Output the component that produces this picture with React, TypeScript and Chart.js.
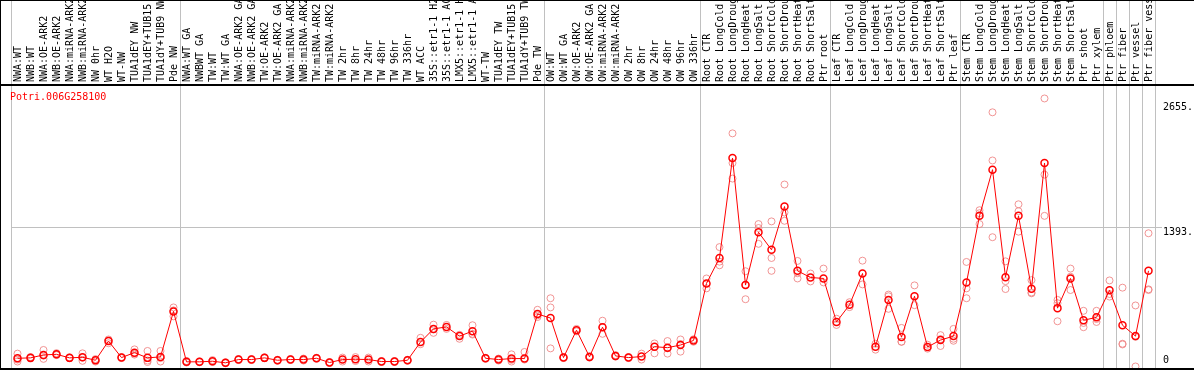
import { useEffect, useRef } from 'react';
import { Chart, registerables } from 'chart.js';

Chart.register(...registerables);

const title = 'Potri.006G258100';

const categories = [
  'NWA:WT', 'NWB:WT', 'NWA:OE-ARK2', 'NWB:OE-ARK2', 'NWA:miRNA-ARK2', 'NWB:miRNA-ARK2', 'NW 0hr', 'WT H2O', 'WT-NW',
  'TUA1dEY NW', 'TUA1dEY+TUB15 NW', 'TUA1dY+TUB9 NW', 'Pde NW',
  'NWA:WT GA', 'NWBWT GA', 'TW:WT', 'TW:WT GA', 'NWA:OE-ARK2 GA', 'NWB:OE-ARK2 GA', 'TW:OE-ARK2', 'TW:OE-ARK2 GA',
  'NWA:miRNA-ARK2 GA', 'NWB:miRNA-ARK2 GA', 'TW:miRNA-ARK2', 'TW:miRNA-ARK2 GA', 'TW 2hr', 'TW 8hr', 'TW 24hr', 'TW 48hr',
  'TW 96hr', 'TW 336hr', 'WT ACC', '35S::etr1-1 H2O', '35S::etr1-1 ACC', 'LMX5::etr1-1 H2O', 'LMX5::etr1-1 ACC', 'WT-TW',
  'TUA1dEY TW', 'TUA1dEY+TUB15 TW', 'TUA1dY+TUB9 TW', 'Pde TW',
  'OW:WT', 'OW:WT GA', 'OW:OE-ARK2', 'OW:OE-ARK2 GA', 'OW:miRNA-ARK2', 'OW:miRNA-ARK2 GA', 'OW 2hr', 'OW 8hr', 'OW 24hr',
  'OW 48hr', 'OW 96hr', 'OW 336hr',
  'Root CTR', 'Root LongCold', 'Root LongDrought', 'Root LongHeat', 'Root LongSalt', 'Root ShortCold', 'Root ShortDrought',
  'Root ShortHeat', 'Root ShortSalt', 'Ptr root',
  'Leaf CTR', 'Leaf LongCold', 'Leaf LongDrought', 'Leaf LongHeat', 'Leaf LongSalt', 'Leaf ShortCold', 'Leaf ShortDrought',
  'Leaf ShortHeat', 'Leaf ShortSalt', 'Ptr leaf',
  'Stem CTR', 'Stem LongCold', 'Stem LongDrought', 'Stem LongHeat', 'Stem LongSalt', 'Stem ShortCold', 'Stem ShortDrought',
  'Stem ShortHeat', 'Stem ShortSalt', 'Ptr shoot', 'Ptr xylem',
  'Ptr phloem', 'Ptr fiber', 'Ptr vessel', 'Ptr fiber vessel',
];

const means = [
  63, 67, 97, 103, 67, 73, 43, 237, 70, 120, 67, 77, 537,
  27, 27, 33, 17, 50, 50, 67, 43, 50, 50, 63, 20, 50, 53, 50, 30, 30, 43, 227, 360, 380, 287, 337, 63, 50, 60, 60, 510,
  470, 70, 347, 77, 377, 87, 70, 80, 180, 170, 197, 243,
  820, 1077, 2087, 803, 1337, 1160, 1597, 947, 880, 870,
  430, 603, 920, 180, 653, 277, 690, 177, 247, 287,
  830, 1503, 1970, 883, 1503, 767, 2037, 570, 870, 447, 477,
  750, 397, 287, 947,
];

const rep1 = [
  110, 75, 147, 115, 70, 113, 55, 253, 75, 153, 137, 137, 577,
  35, 30, 45, 22, 55, 55, 72, 48, 55, 60, 68, 25, 70, 75, 70, 35, 35, 48, 270, 403, 400, 300, 397, 68, 60, 103, 127, 553,
  670, 75, 360, 85, 443, 95, 75, 110, 213, 237, 253, 255,
  870, 1187, 2337, 943, 1420, 1447, 1820, 1047, 920, 970,
  463, 630, 1050, 210, 690, 370, 800, 200, 297, 360,
  1037, 1560, 2550, 1043, 1620, 853, 2690, 653, 970, 543, 543,
  850, 777, 597, 1327,
];

const rep2 = [
  30, 60, 57, 95, 62, 37, 30, 215, 65, 100, 40, 30, 487,
  20, 22, 25, 12, 45, 45, 62, 38, 45, 40, 58, 15, 30, 35, 30, 25, 25, 38, 205, 320, 360, 260, 303, 58, 40, 30, 50, 480,
  577, 65, 335, 70, 310, 80, 65, 50, 113, 110, 130, 230,
  770, 1003, 2037, 660, 1380, 1077, 1537, 870, 840, 830,
  400, 580, 810, 150, 563, 230, 600, 160, 187, 240,
  770, 1420, 2063, 763, 1550, 720, 1920, 620, 753, 377, 460,
  687, 203, -20, 753,
];

const rep3 = [
  50, null, 90, 100, null, 70, 45, 240, null, 110, 25, 65, 547,
  null, null, null, null, null, null, null, null, null, null, null, null, null, null, null, null, null, null,
  null, 357, null, null, 310, null, null, 47, null, 497,
  163, null, null, null, 377, null, null, null, null, 163, 207, null,
  null, 1040, 1880, 807, 1220, 947, 1453, 923, null, null,
  null, null, null, null, 707, 230, null, null, 257, 260,
  670, 1530, 1287, 843, 1343, 728, 1503, 437, 887, 420, 430,
  713, 210, 280, 760,
];

const yTickValues = [0, 1393, 2655];
const yTickLabels = ['0', '1393.', '2655.'];
const yMax = 2816;
const groupStarts = [0, 13, 41, 53, 63, 73, 84, 85, 86, 87, 88];

const FONT = 'DejaVu Sans Mono';

const decor = {
  id: 'decor',
  beforeDatasetsDraw(chart: any) {
    const { ctx, chartArea, scales } = chart;
    const x = scales.x;
    const y = scales.y;
    const half = (x.getPixelForValue(1) - x.getPixelForValue(0)) / 2;
    ctx.save();
    ctx.fillStyle = '#c0c0c0';
    for (const g of groupStarts) {
      const px = Math.round(x.getPixelForValue(g) - half);
      ctx.fillRect(px, 0, 1, 369);
    }
    const gy = Math.round(y.getPixelForValue(yTickValues[1]));
    ctx.fillRect(chartArea.left, gy, 1162 - chartArea.left, 1);
    ctx.restore();
  },
  afterDraw(chart: any) {
    const { ctx, scales, width } = chart;
    const y = scales.y;
    ctx.save();
    ctx.fillStyle = '#000';
    ctx.fillRect(0, 0, width, 1);
    ctx.fillRect(0, 0, 1, 370);
    ctx.fillRect(0, 84, width, 2);
    ctx.fillRect(0, 368, width, 2);
    ctx.font = `10px "${FONT}"`;
    ctx.textAlign = 'left';
    ctx.textBaseline = 'alphabetic';
    yTickValues.forEach((v, i) => {
      const py = y.getPixelForValue(v);
      const ty = v === 0 ? py - 2 : py + 8.5;
      ctx.fillText(yTickLabels[i], 1163, ty);
    });
    ctx.fillStyle = '#ff0000';
    ctx.fillText(title, 10, 100);
    ctx.restore();
  },
};

const repStyle = {
  showLine: false,
  pointRadius: 3.5,
  pointBorderWidth: 1,
  pointBorderColor: 'rgba(238,130,130,0.85)',
  pointBackgroundColor: 'rgba(0,0,0,0)',
  borderColor: 'rgba(238,130,130,0.85)',
  clip: false as any,
};

export default function App() {
  const ref = useRef<HTMLCanvasElement>(null);
  useEffect(() => {
    document.body.style.margin = '0';
    const chart = new Chart(ref.current as HTMLCanvasElement, {
      type: 'line',
      data: {
        labels: categories,
        datasets: [
          {
            data: means,
            borderColor: '#ff0000',
            borderWidth: 1,
            tension: 0,
            pointRadius: 3.5,
            pointBorderWidth: 1.5,
            pointBorderColor: '#ff0000',
            pointBackgroundColor: 'rgba(0,0,0,0)',
            clip: false as any,
          },
          { data: rep1, ...repStyle },
          { data: rep2, ...repStyle },
          { data: rep3, ...repStyle },
        ],
      },
      options: {
        animation: false,
        responsive: false,
        devicePixelRatio: 1,
        layout: { padding: { left: 11, right: 39, top: 0, bottom: 3 } },
        plugins: { legend: { display: false }, tooltip: { enabled: false }, title: { display: false } },
        scales: {
          x: {
            type: 'category',
            position: 'top',
            offset: true,
            grid: { display: false, drawTicks: false },
            border: { display: false },
            ticks: {
              autoSkip: false,
              minRotation: 90,
              maxRotation: 90,
              padding: 4,
              labelOffset: 13,
              color: '#000',
              font: { family: FONT, size: 10 },
            },
            afterFit: (s: any) => {
              s.height = 86;
            },
          },
          y: { display: false, min: 0, max: yMax },
        },
      },
      plugins: [decor],
    });
    return () => chart.destroy();
  }, []);
  return <canvas ref={ref} width={1194} height={370} style={{ display: 'block' }} />;
}
